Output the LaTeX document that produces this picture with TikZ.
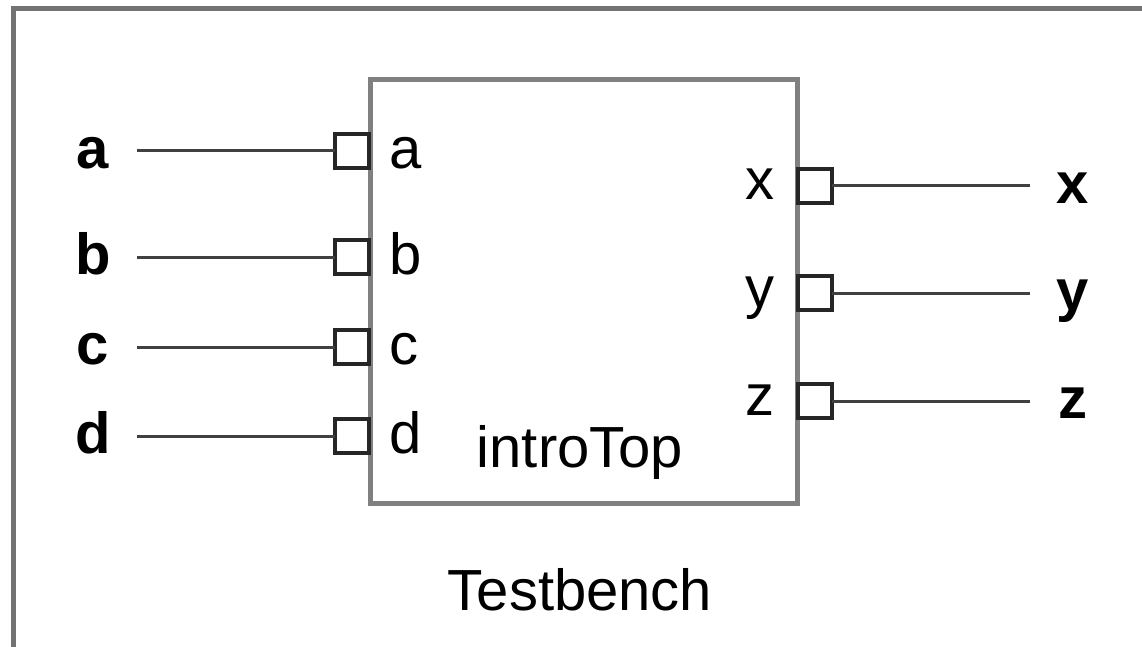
\documentclass[tikz,border=0pt]{standalone}
\usepackage{fontspec}
\setmainfont{Liberation Sans}
\begin{document}
\begin{tikzpicture}[x=1pt,y=-1pt,
  frame/.style={draw=black!55,line width=5pt},
  block/.style={draw=black!50,line width=5pt},
  port/.style={draw=black!85,line width=3.5pt,fill=white,minimum size=34pt,inner sep=0pt,outer sep=0pt},
  wire/.style={draw=black!75,line width=3pt},
  lbl/.style={font=\fontsize{58}{60}\selectfont,inner sep=0pt,anchor=base},
  blbl/.style={font=\fontsize{58}{60}\selectfont\bfseries,inner sep=0pt,anchor=base}]
\clip (0,0) rectangle (1142,647);
\draw[frame] (13,9) rectangle (1200,720);
\draw[block] (370,80) rectangle (797,503);
% left ports
\foreach \n/\yy in {a/151,b/257,c/347,d/436}{
  \node[port] (p\n) at (352,\yy) {};
  \coordinate (w\n) at (137,\yy);
  \draw[wire] (w\n) -- (p\n.west);
  \node[blbl] (o\n) at (93,\yy+17) {\n};
  \node[lbl,anchor=base west] (i\n) at (389,\yy+17) {\n};
}
% right ports
\foreach \n/\yy in {x/186,y/293,z/401}{
  \node[port] (p\n) at (815,\yy) {};
  \coordinate (w\n) at (1030,\yy);
  \draw[wire] (p\n.east) -- (w\n);
  \node[blbl] (o\n) at (1073,\yy+17) {\n};
  \node[lbl,anchor=base east] (i\n) at (775,\yy+14) {\n};
}
\node[lbl] (top) at (580,467) {introTop};
\node[lbl] (tb) at (580,610) {Testbench};
\end{tikzpicture}
\end{document}
